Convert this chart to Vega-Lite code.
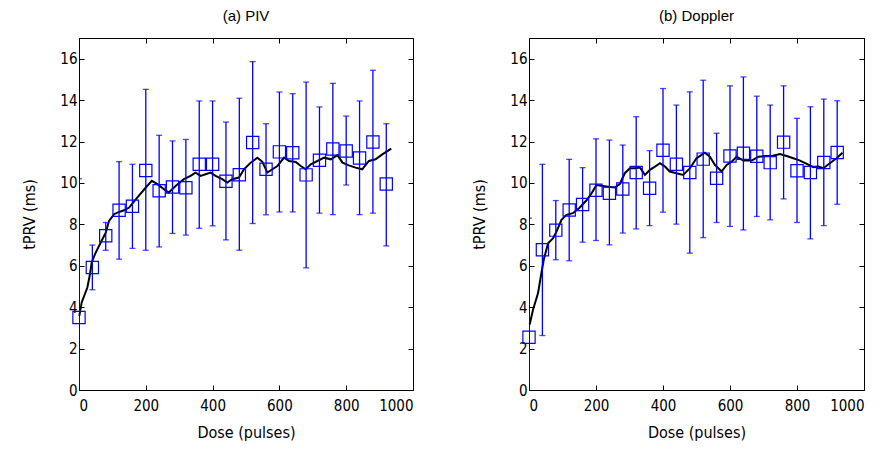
{
  "$schema": "https://vega.github.io/schema/vega-lite/v6.json",
  "background": "white",
  "padding": {"left": 21, "top": 8, "right": 5, "bottom": 5},
  "config": {
    "font": "Liberation Sans",
    "view": {"stroke": "black", "strokeWidth": 1},
    "title": {"font": "Liberation Sans", "fontSize": 15, "fontWeight": "normal", "color": "black", "offset": 14},
    "axis": {
      "grid": false, "domain": false, "tickColor": "black", "tickSize": -5, "tickWidth": 1,
      "labelFont": "DejaVu Sans Condensed, Liberation Sans, sans-serif", "labelFontSize": 15, "labelColor": "black",
      "titleFont": "DejaVu Sans Condensed, Liberation Sans, sans-serif", "titleFontSize": 16, "titleFontWeight": "normal", "titleColor": "black",
      "format": "d"
    },
    "axisX": {"labelPadding": 13, "titlePadding": 11},
    "axisY": {"labelPadding": 7, "titlePadding": 22}
  },
  "datasets": {
    "piv_pts": [
      {"dose": 0, "mean": 3.5, "lo": -3.2, "hi": 10.2},
      {"dose": 40, "mean": 5.92, "lo": 4.84, "hi": 7.0},
      {"dose": 80, "mean": 7.45, "lo": 6.75, "hi": 8.09},
      {"dose": 120, "mean": 8.68, "lo": 6.32, "hi": 11.03},
      {"dose": 160, "mean": 8.87, "lo": 6.84, "hi": 10.9},
      {"dose": 200, "mean": 10.6, "lo": 6.75, "hi": 14.52},
      {"dose": 240, "mean": 9.62, "lo": 6.91, "hi": 12.3},
      {"dose": 280, "mean": 9.8, "lo": 7.56, "hi": 12.03},
      {"dose": 320, "mean": 9.77, "lo": 7.48, "hi": 12.1},
      {"dose": 360, "mean": 10.9, "lo": 7.81, "hi": 13.96},
      {"dose": 400, "mean": 10.9, "lo": 7.93, "hi": 13.96},
      {"dose": 440, "mean": 10.08, "lo": 7.25, "hi": 12.94},
      {"dose": 480, "mean": 10.4, "lo": 6.75, "hi": 14.09},
      {"dose": 520, "mean": 11.95, "lo": 8.04, "hi": 15.86},
      {"dose": 560, "mean": 10.66, "lo": 8.46, "hi": 12.86},
      {"dose": 600, "mean": 11.5, "lo": 8.6, "hi": 14.39},
      {"dose": 640, "mean": 11.46, "lo": 8.6, "hi": 14.31},
      {"dose": 680, "mean": 10.39, "lo": 5.9, "hi": 14.87},
      {"dose": 720, "mean": 11.1, "lo": 8.54, "hi": 13.67},
      {"dose": 760, "mean": 11.64, "lo": 8.47, "hi": 14.81},
      {"dose": 800, "mean": 11.54, "lo": 9.9, "hi": 13.23},
      {"dose": 840, "mean": 11.2, "lo": 8.47, "hi": 13.96},
      {"dose": 880, "mean": 11.98, "lo": 8.54, "hi": 15.44},
      {"dose": 920, "mean": 9.95, "lo": 6.96, "hi": 12.86}
    ],
    "dop_pts": [
      {"dose": 0, "mean": 2.55, "lo": -3.2, "hi": 8.3},
      {"dose": 40, "mean": 6.77, "lo": 2.63, "hi": 10.9},
      {"dose": 80, "mean": 7.72, "lo": 6.29, "hi": 9.15},
      {"dose": 120, "mean": 8.69, "lo": 6.24, "hi": 11.14},
      {"dose": 160, "mean": 8.96, "lo": 7.14, "hi": 10.74},
      {"dose": 200, "mean": 9.65, "lo": 7.22, "hi": 12.13},
      {"dose": 240, "mean": 9.5, "lo": 7.01, "hi": 12.07},
      {"dose": 280, "mean": 9.71, "lo": 7.58, "hi": 11.83},
      {"dose": 320, "mean": 10.5, "lo": 7.78, "hi": 13.2},
      {"dose": 360, "mean": 9.74, "lo": 7.94, "hi": 11.56},
      {"dose": 400, "mean": 11.58, "lo": 8.59, "hi": 14.56},
      {"dose": 440, "mean": 10.9, "lo": 8.01, "hi": 13.76},
      {"dose": 480, "mean": 10.5, "lo": 6.61, "hi": 14.4},
      {"dose": 520, "mean": 11.15, "lo": 7.36, "hi": 14.96},
      {"dose": 560, "mean": 10.23, "lo": 8.09, "hi": 12.4},
      {"dose": 600, "mean": 11.3, "lo": 7.9, "hi": 14.69},
      {"dose": 640, "mean": 11.43, "lo": 7.73, "hi": 15.12},
      {"dose": 680, "mean": 11.29, "lo": 8.38, "hi": 14.19},
      {"dose": 720, "mean": 10.98, "lo": 8.22, "hi": 13.76},
      {"dose": 760, "mean": 11.97, "lo": 9.23, "hi": 14.69},
      {"dose": 800, "mean": 10.59, "lo": 8.09, "hi": 13.12},
      {"dose": 840, "mean": 10.5, "lo": 7.3, "hi": 13.68},
      {"dose": 880, "mean": 10.99, "lo": 7.94, "hi": 14.05},
      {"dose": 920, "mean": 11.47, "lo": 8.97, "hi": 13.97}
    ],
    "piv_line": [
      {"dose": 1, "t": 3.58}, {"dose": 8, "t": 4.23}, {"dose": 25, "t": 4.95}, {"dose": 33, "t": 5.6},
      {"dose": 38, "t": 6.16}, {"dose": 48, "t": 6.56}, {"dose": 60, "t": 6.96}, {"dose": 70, "t": 7.28},
      {"dose": 80, "t": 7.6}, {"dose": 90, "t": 8.17}, {"dose": 105, "t": 8.49}, {"dose": 120, "t": 8.6},
      {"dose": 135, "t": 8.68}, {"dose": 150, "t": 8.81}, {"dose": 170, "t": 9.21}, {"dose": 200, "t": 9.78},
      {"dose": 218, "t": 10.1}, {"dose": 235, "t": 9.94}, {"dose": 254, "t": 9.7}, {"dose": 269, "t": 9.54},
      {"dose": 290, "t": 9.86}, {"dose": 314, "t": 10.18}, {"dose": 334, "t": 10.34}, {"dose": 349, "t": 10.5},
      {"dose": 364, "t": 10.34}, {"dose": 379, "t": 10.42}, {"dose": 394, "t": 10.5}, {"dose": 409, "t": 10.34},
      {"dose": 429, "t": 10.18}, {"dose": 444, "t": 10.02}, {"dose": 459, "t": 10.18}, {"dose": 479, "t": 10.26},
      {"dose": 494, "t": 10.66}, {"dose": 514, "t": 10.98}, {"dose": 534, "t": 11.22}, {"dose": 549, "t": 11.02},
      {"dose": 564, "t": 10.5}, {"dose": 579, "t": 10.66}, {"dose": 594, "t": 10.82}, {"dose": 614, "t": 11.22},
      {"dose": 629, "t": 11.06}, {"dose": 649, "t": 11.01}, {"dose": 664, "t": 10.82}, {"dose": 679, "t": 10.66},
      {"dose": 694, "t": 10.9}, {"dose": 714, "t": 11.06}, {"dose": 734, "t": 11.22}, {"dose": 754, "t": 11.14},
      {"dose": 774, "t": 11.34}, {"dose": 789, "t": 10.98}, {"dose": 808, "t": 10.85}, {"dose": 828, "t": 10.74},
      {"dose": 848, "t": 10.66}, {"dose": 868, "t": 11.06}, {"dose": 888, "t": 11.14}, {"dose": 908, "t": 11.38},
      {"dose": 935, "t": 11.66}
    ],
    "dop_line": [
      {"dose": 2, "t": 3.16}, {"dose": 12, "t": 3.88}, {"dose": 27, "t": 4.68}, {"dose": 37, "t": 5.65},
      {"dose": 44, "t": 6.29}, {"dose": 57, "t": 7.09}, {"dose": 72, "t": 7.33}, {"dose": 82, "t": 7.65},
      {"dose": 97, "t": 8.22}, {"dose": 112, "t": 8.46}, {"dose": 131, "t": 8.54}, {"dose": 151, "t": 8.8},
      {"dose": 171, "t": 9.15}, {"dose": 187, "t": 9.5}, {"dose": 201, "t": 9.9}, {"dose": 216, "t": 9.86},
      {"dose": 236, "t": 9.82}, {"dose": 256, "t": 9.78}, {"dose": 271, "t": 9.95}, {"dose": 286, "t": 10.47},
      {"dose": 301, "t": 10.71}, {"dose": 316, "t": 10.71}, {"dose": 331, "t": 10.75}, {"dose": 346, "t": 10.39},
      {"dose": 361, "t": 10.63}, {"dose": 376, "t": 10.79}, {"dose": 391, "t": 10.95}, {"dose": 406, "t": 10.79},
      {"dose": 420, "t": 10.55}, {"dose": 440, "t": 10.47}, {"dose": 460, "t": 10.39}, {"dose": 480, "t": 10.7},
      {"dose": 500, "t": 11.19}, {"dose": 525, "t": 11.46}, {"dose": 540, "t": 11.27}, {"dose": 555, "t": 10.87},
      {"dose": 575, "t": 10.55}, {"dose": 590, "t": 10.87}, {"dose": 605, "t": 11.03}, {"dose": 620, "t": 11.27},
      {"dose": 640, "t": 11.08}, {"dose": 665, "t": 11.08}, {"dose": 685, "t": 11.27}, {"dose": 705, "t": 11.3},
      {"dose": 725, "t": 11.3}, {"dose": 749, "t": 11.4}, {"dose": 769, "t": 11.3}, {"dose": 789, "t": 11.19},
      {"dose": 809, "t": 11.08}, {"dose": 829, "t": 10.92}, {"dose": 849, "t": 10.76}, {"dose": 864, "t": 10.79},
      {"dose": 879, "t": 10.71}, {"dose": 898, "t": 10.95}, {"dose": 918, "t": 11.19}, {"dose": 936, "t": 11.46}
    ]
  },
  "spacing": 57,
  "hconcat": [
    {
      "title": "(a) PIV",
      "width": 334,
      "height": 352,
      "resolve": {"axis": {"x": "independent", "y": "independent"}},
      "layer": [
        {
          "data": {"name": "piv_line"},
          "mark": {"type": "line", "color": "black", "strokeWidth": 2},
          "encoding": {
            "x": {"field": "dose", "type": "quantitative", "scale": {"domain": [0, 1000], "nice": false},
                  "axis": {"orient": "bottom", "title": "Dose (pulses)", "values": [0, 200, 400, 600, 800, 1000]}},
            "y": {"field": "t", "type": "quantitative", "scale": {"domain": [0, 17], "nice": false},
                  "axis": {"orient": "left", "title": "tPRV (ms)", "values": [0, 2, 4, 6, 8, 10, 12, 14, 16]}}
          }
        },
        {
          "data": {"name": "piv_pts"},
          "mark": {"type": "rule", "color": "#0000ff", "strokeWidth": 1.3, "clip": true},
          "encoding": {
            "x": {"field": "dose", "type": "quantitative", "axis": null},
            "y": {"field": "lo", "type": "quantitative", "axis": null},
            "y2": {"field": "hi"}
          }
        },
        {
          "data": {"name": "piv_pts"},
          "mark": {"type": "tick", "orient": "horizontal", "color": "#0000ff", "size": 6, "thickness": 1.3, "clip": true},
          "encoding": {
            "x": {"field": "dose", "type": "quantitative", "axis": null},
            "y": {"field": "lo", "type": "quantitative", "axis": null}
          }
        },
        {
          "data": {"name": "piv_pts"},
          "mark": {"type": "tick", "orient": "horizontal", "color": "#0000ff", "size": 6, "thickness": 1.3, "clip": true},
          "encoding": {
            "x": {"field": "dose", "type": "quantitative", "axis": null},
            "y": {"field": "hi", "type": "quantitative", "axis": null}
          }
        },
        {
          "data": {"name": "piv_pts"},
          "mark": {"type": "point", "shape": "square", "filled": false, "color": "#0000ff", "size": 150, "strokeWidth": 1.2, "opacity": 1},
          "encoding": {
            "x": {"field": "dose", "type": "quantitative",
                  "axis": {"orient": "top", "title": null, "labels": false, "values": [0, 200, 400, 600, 800, 1000]}},
            "y": {"field": "mean", "type": "quantitative",
                  "axis": {"orient": "right", "title": null, "labels": false, "values": [0, 2, 4, 6, 8, 10, 12, 14, 16]}}
          }
        }
      ]
    },
    {
      "title": "(b) Doppler",
      "width": 335,
      "height": 352,
      "resolve": {"axis": {"x": "independent", "y": "independent"}},
      "layer": [
        {
          "data": {"name": "dop_line"},
          "mark": {"type": "line", "color": "black", "strokeWidth": 2},
          "encoding": {
            "x": {"field": "dose", "type": "quantitative", "scale": {"domain": [0, 1000], "nice": false},
                  "axis": {"orient": "bottom", "title": "Dose (pulses)", "values": [0, 200, 400, 600, 800, 1000]}},
            "y": {"field": "t", "type": "quantitative", "scale": {"domain": [0, 17], "nice": false},
                  "axis": {"orient": "left", "title": "tPRV (ms)", "values": [0, 2, 4, 6, 8, 10, 12, 14, 16]}}
          }
        },
        {
          "data": {"name": "dop_pts"},
          "mark": {"type": "rule", "color": "#0000ff", "strokeWidth": 1.3, "clip": true},
          "encoding": {
            "x": {"field": "dose", "type": "quantitative", "axis": null},
            "y": {"field": "lo", "type": "quantitative", "axis": null},
            "y2": {"field": "hi"}
          }
        },
        {
          "data": {"name": "dop_pts"},
          "mark": {"type": "tick", "orient": "horizontal", "color": "#0000ff", "size": 6, "thickness": 1.3, "clip": true},
          "encoding": {
            "x": {"field": "dose", "type": "quantitative", "axis": null},
            "y": {"field": "lo", "type": "quantitative", "axis": null}
          }
        },
        {
          "data": {"name": "dop_pts"},
          "mark": {"type": "tick", "orient": "horizontal", "color": "#0000ff", "size": 6, "thickness": 1.3, "clip": true},
          "encoding": {
            "x": {"field": "dose", "type": "quantitative", "axis": null},
            "y": {"field": "hi", "type": "quantitative", "axis": null}
          }
        },
        {
          "data": {"name": "dop_pts"},
          "mark": {"type": "point", "shape": "square", "filled": false, "color": "#0000ff", "size": 150, "strokeWidth": 1.2, "opacity": 1},
          "encoding": {
            "x": {"field": "dose", "type": "quantitative",
                  "axis": {"orient": "top", "title": null, "labels": false, "values": [0, 200, 400, 600, 800, 1000]}},
            "y": {"field": "mean", "type": "quantitative",
                  "axis": {"orient": "right", "title": null, "labels": false, "values": [0, 2, 4, 6, 8, 10, 12, 14, 16]}}
          }
        }
      ]
    }
  ]
}
